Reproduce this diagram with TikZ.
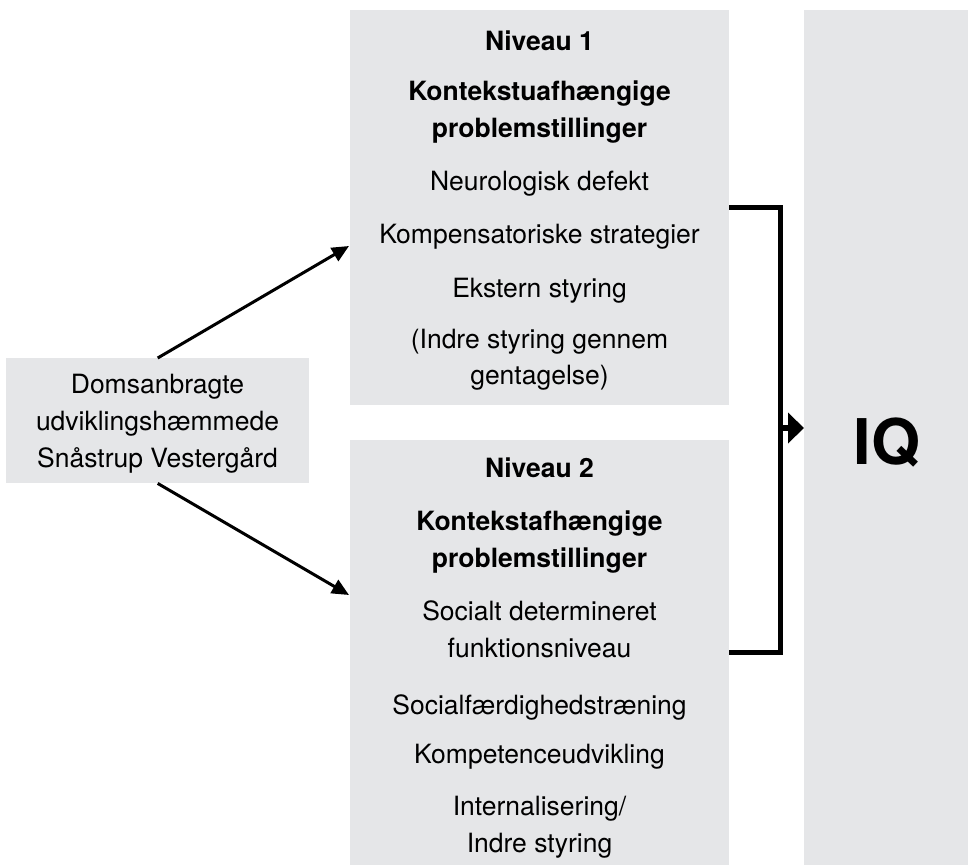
\documentclass[tikz,border=0pt]{standalone}
\usepackage{fontspec}
\setmainfont{TeX Gyre Heros}
\usetikzlibrary{arrows.meta}
\definecolor{boxgray}{RGB}{229,230,232}
\tikzset{
  boxshape/.style={fill=boxgray, draw=none, inner sep=0pt, anchor=north west},
  txt/.style={anchor=base, inner sep=0pt, font=\fontsize{26.5}{36.5}\selectfont},
  btxt/.style={anchor=base, inner sep=0pt, font=\fontsize{26.5}{36.5}\selectfont\bfseries},
  arr/.style={line width=3pt, -{Triangle[length=17pt,width=15pt]}},
  bracket/.style={line width=5pt, line join=miter},
  barr/.style={line width=5.5pt, -{Triangle[length=16pt,width=30pt]}}
}
\begin{document}
\begin{tikzpicture}[x=1pt,y=-1pt]
\useasboundingbox (0,0) rectangle (968,865);
% boxes
\node[boxshape, minimum width=303pt, minimum height=125pt] (left) at (6,358) {};
\node[boxshape, minimum width=379pt, minimum height=395pt] (n1) at (350,10) {};
\node[boxshape, minimum width=379pt, minimum height=425pt] (n2) at (350,440) {};
\node[boxshape, minimum width=164pt, minimum height=855pt] (iq) at (804,10) {};
% left text
\node[txt] (l1) at (157.5,393) {Domsanbragte};
\node[txt] (l2) at (157.5,430) {udviklingshæmmede};
\node[txt] (l3) at (157.5,467) {Snåstrup Vestergård};
% niveau 1
\node[btxt] (a1) at (539.5,50) {Niveau 1};
\node[btxt] (a2) at (539.5,100) {Kontekstuafhængige};
\node[btxt] (a3) at (539.5,137) {problemstillinger};
\node[txt] (a4) at (539.5,190) {Neurologisk defekt};
\node[txt] (a5) at (539.5,243) {Kompensatoriske strategier};
\node[txt] (a6) at (539.5,297) {Ekstern styring};
\node[txt] (a7) at (539.5,348) {(Indre styring gennem};
\node[txt] (a8) at (539.5,384) {gentagelse)};
% niveau 2
\node[btxt] (b1) at (539.5,477) {Niveau 2};
\node[btxt] (b2) at (539.5,530) {Kontekstafhængige};
\node[btxt] (b3) at (539.5,567) {problemstillinger};
\node[txt] (b4) at (539.5,620) {Socialt determineret};
\node[txt] (b5) at (539.5,657) {funktionsniveau};
\node[txt] (b6) at (539.5,714) {Socialfærdighedstræning};
\node[txt] (b7) at (539.5,763) {Kompetenceudvikling};
\node[txt] (b8) at (539.5,815) {Internalisering/};
\node[txt] (b9) at (539.5,852) {Indre styring};
% IQ
\node[anchor=base, inner sep=0pt, font=\fontsize{63}{70}\selectfont\bfseries] (iqt) at (887,464) {IQ};
% connectors
\draw[arr] (left.north) -- ([yshift=-236pt,xshift=-1pt]n1.north west);
\draw[arr] (left.south) -- ([yshift=-155pt,xshift=-1pt]n2.north west);
\draw[bracket] (n1.east) -- ++(51,0) |- (n2.east);
\coordinate (bm) at (780,428);
\draw[barr] (bm) -- (bm -| iq.west);
\end{tikzpicture}
\end{document}
